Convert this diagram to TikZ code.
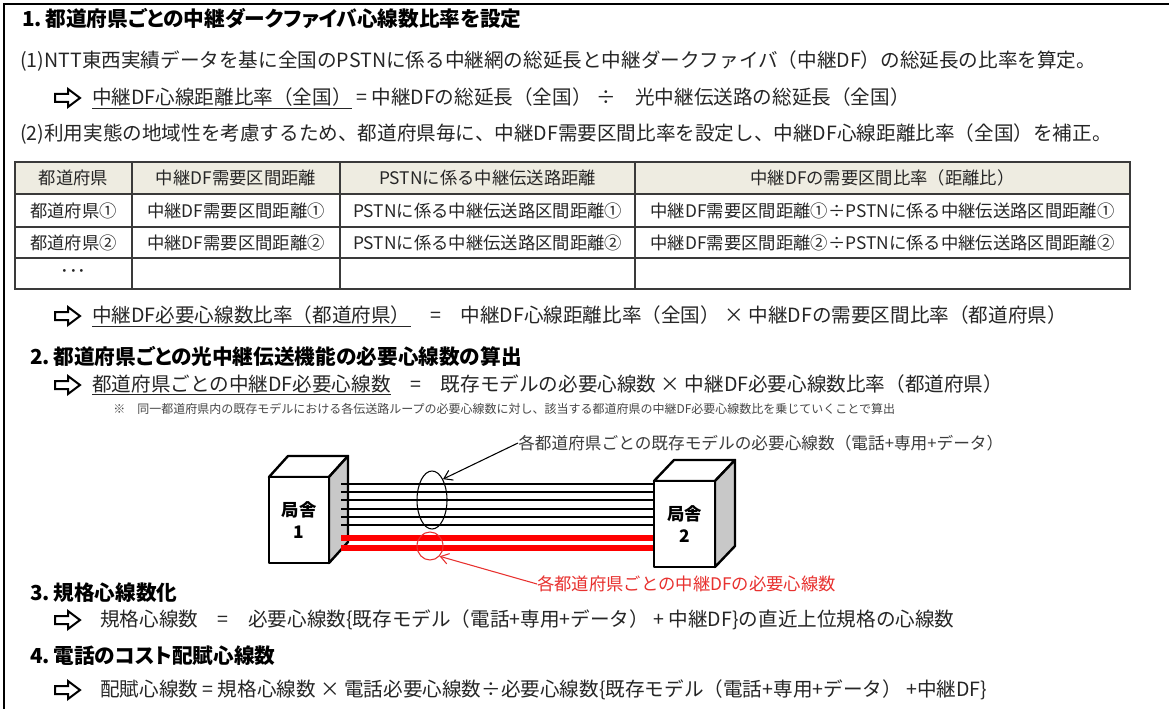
\documentclass[tikz,border=0pt]{standalone}
\usepackage{fontspec}
\setmainfont{Noto Sans CJK JP}
\newfontfamily\jpp[RawFeature=+palt]{Noto Sans CJK JP}
\usetikzlibrary{arrows.meta,shapes.geometric}
\definecolor{txt}{HTML}{262626}
\definecolor{hdr}{HTML}{EEECE1}
\definecolor{tbl}{HTML}{3A3A3A}
\definecolor{sidegray}{HTML}{C8C8C8}
\definecolor{cablered}{HTML}{FF0000}
\definecolor{redtext}{HTML}{E8312F}
\newcommand\hollowarrow[2]{\draw[arrowshape] (#1,#2-4) -- (#1+13,#2-4) -- (#1+13,#2-9) -- (#1+25,#2) -- (#1+13,#2+9) -- (#1+13,#2+4) -- (#1,#2+4) -- cycle;}
\tikzset{
  title/.style={anchor=west, inner sep=0pt, font=\jpp\bfseries\fontsize{15.5}{18}\selectfont, text=black},
  body/.style={anchor=west, inner sep=0pt, font=\fontsize{14.7}{18}\selectfont, text=txt},
  cell/.style={inner sep=0pt, font=\fontsize{13}{16}\selectfont, text=txt},
  note/.style={anchor=west, inner sep=0pt, font=\fontsize{9}{11}\selectfont, text=txt!85},
  lab/.style={anchor=west, inner sep=0pt, font=\fontsize{12.5}{15}\selectfont, text=txt!90},
  redlab/.style={anchor=west, inner sep=0pt, font=\fontsize{13}{15}\selectfont, text=redtext},
  arrowshape/.style={draw=black, line width=1.5pt, line join=miter, fill=white},
  frameline/.style={draw=black, line width=1.8pt},
  tblline/.style={draw=tbl, line width=1.3pt},
  boxline/.style={draw=black, line width=1.8pt, line join=round},
  boxtxt/.style={align=center, inner sep=0pt, font=\bfseries\fontsize{13}{17}\selectfont},
  cable/.style={draw=black, line width=1.6pt},
  dfcable/.style={draw=cablered, line width=4.5pt},
  ring/.style={ellipse, draw=black, line width=0.8pt, inner sep=0pt},
  redring/.style={ellipse, draw=redtext, line width=0.8pt, inner sep=0pt},
  pointer/.style={line width=0.8pt, -{Straight Barb[length=6pt,width=8pt]}}
}
\begin{document}
\begin{tikzpicture}[x=0.75pt,y=-0.75pt]
\useasboundingbox (0,0) rectangle (1169,709);
\fill[white] (0,0) rectangle (1169,709);
% outer frame
\draw[frameline] (4,709) -- (4,4) -- (1169,4);

% section 1
\node[title] (t1) at (22,19) {1.\,都道府県ごとの中継ダークファイバ心線数比率を設定};
\node[body] (l1) at (20,61) {(1)NTT東西実績データを基に全国のPSTNに係る中継網の総延長と中継ダークファイバ（中継DF）の総延長の比率を算定。};
\hollowarrow{55}{98}
\node[body] (a1) at (92,98) {\underline{中継DF心線距離比率（全国）} = 中継DFの総延長（全国） ÷　光中継伝送路の総延長（全国）};
\node[body] (l2) at (20,134) {(2)利用実態の地域性を考慮するため、都道府県毎に、中継DF需要区間比率を設定し、中継DF心線距離比率（全国）を補正。};

% table
\fill[hdr] (15,162) rectangle (1130,194);
\draw[tblline] (15,162) rectangle (1130,289);
\draw[tblline] (15,194) -- (1130,194) (15,227) -- (1130,227) (15,258) -- (1130,258);
\draw[tblline] (132,162) -- (132,289) (340,162) -- (340,289) (635,162) -- (635,289);
\node[cell] (h1) at (73.5,178) {都道府県};
\node[cell] (h2) at (236,178) {中継DF需要区間距離};
\node[cell] (h3) at (487.5,178) {PSTNに係る中継伝送路距離};
\node[cell] (h4) at (882.5,178) {中継DFの需要区間比率（距離比）};
\node[cell] (r11) at (73.5,210.5) {都道府県①};
\node[cell] (r12) at (236,210.5) {中継DF需要区間距離①};
\node[cell] (r13) at (487.5,210.5) {PSTNに係る中継伝送路区間距離①};
\node[cell] (r14) at (882.5,210.5) {中継DF需要区間距離①÷PSTNに係る中継伝送路区間距離①};
\node[cell] (r21) at (73.5,242.5) {都道府県②};
\node[cell] (r22) at (236,242.5) {中継DF需要区間距離②};
\node[cell] (r23) at (487.5,242.5) {PSTNに係る中継伝送路区間距離②};
\node[cell] (r24) at (882.5,242.5) {中継DF需要区間距離②÷PSTNに係る中継伝送路区間距離②};
\node[cell] (r31) at (73.5,273.5) {･･･};

\hollowarrow{55}{316}
\node[body] (a2) at (92,316) {\underline{中継DF必要心線数比率（都道府県）}　=　中継DF心線距離比率（全国） × 中継DFの需要区間比率（都道府県）};

% section 2
\node[title] (t2) at (30,356) {2.\,都道府県ごとの光中継伝送機能の必要心線数の算出};
\hollowarrow{55}{385}
\node[body] (a3) at (92,385) {\underline{都道府県ごとの中継DF必要心線数}　=　既存モデルの必要心線数 × 中継DF必要心線数比率（都道府県）};
\node[note] (n1) at (113,409) {※　同一都道府県内の既存モデルにおける各伝送路ループの必要心線数に対し、該当する都道府県の中継DF必要心線数比を乗じていくことで算出};

% diagram: office 1
\draw[boxline, fill=white] (269,477) -- (288,456) -- (348,456) -- (329,477) -- cycle;
\draw[boxline, fill=sidegray] (329,477) -- (348,456) -- (348,542) -- (329,563) -- cycle;
\node[boxline, fill=white, minimum width=45pt, minimum height=64.5pt, inner sep=0pt] (b1) at (299,520) {};
\node[boxtxt] (k1) at (b1) {局舎\\1};
% cables
\draw[cable] (341,484) -- (654,484);
\draw[cable] (341,492) -- (654,492);
\draw[cable] (341,500) -- (654,500);
\draw[cable] (341,509) -- (654,509);
\draw[cable] (341,517) -- (654,517);
\draw[cable] (341,525) -- (654,525);
\draw[dfcable] (341,538) -- (654,538);
\draw[dfcable] (341,548) -- (654,548);
% office 2
\draw[boxline, fill=white] (654,481) -- (674,460) -- (735,460) -- (715,481) -- cycle;
\draw[boxline, fill=sidegray] (715,481) -- (735,460) -- (735,546) -- (715,567) -- cycle;
\node[boxline, fill=white, minimum width=45.75pt, minimum height=64.5pt, inner sep=0pt] (b2) at (684.5,524) {};
\node[boxtxt] (k2) at (b2) {局舎\\2};
% rings and labels
\node[ring, minimum width=22.5pt, minimum height=43.5pt] (e1) at (432,500) {};
\node[redring, minimum width=19.5pt, minimum height=21pt] (e2) at (430,546) {};
\node[lab] (lb1) at (518,443) {各都道府県ごとの既存モデルの必要心線数（電話+専用+データ）};
\node[redlab] (lb2) at (537,584) {各都道府県ごとの中継DFの必要心線数};
\draw[pointer, black] (lb1.west) -- (e1.north east);
\draw[pointer, redtext] (lb2.west) -- (e2.south east);

% section 3
\node[title] (t3) at (30,593) {3.\,規格心線数化};
\hollowarrow{55}{620}
\node[body] (a4) at (100,620) {規格心線数　=　必要心線数\{既存モデル（電話+専用+データ） + 中継DF\}の直近上位規格の心線数};

% section 4
\node[title] (t4) at (30,656) {4.\,電話のコスト配賦心線数};
\hollowarrow{55}{690}
\node[body] (a5) at (100,690) {配賦心線数 = 規格心線数 × 電話必要心線数÷必要心線数\{既存モデル（電話+専用+データ） +中継DF\}};
\end{tikzpicture}
\end{document}
